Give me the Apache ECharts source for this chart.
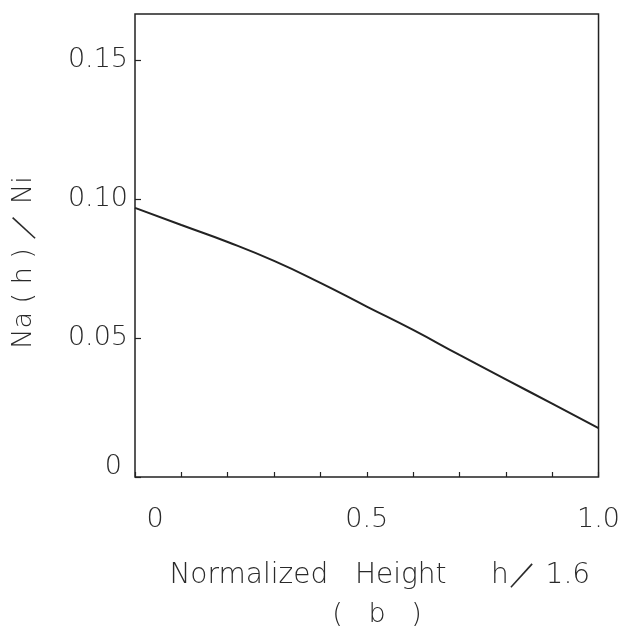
<!DOCTYPE html>
<html>
<head>
    <meta charset="utf-8">
    <title>Na(h)/Ni</title>
    <script src="https://cdn.jsdelivr.net/npm/echarts@6/dist/echarts.min.js"></script>
    <style>
        html, body {margin: 0; padding: 0; background: #fff;}
        #chart {width: 623px; height: 631px;}
    </style>
</head>
<body>
<div id="chart"></div>
<script>
    // normalized height h/1.6 and Na(h)/Ni
    var heights = [0, 0.1, 0.2, 0.3, 0.4, 0.5, 0.6, 0.7, 0.8, 0.9, 1.0];
    var ratio = [0.0968, 0.0906, 0.0845, 0.0777, 0.0698, 0.0613, 0.0529, 0.0439, 0.0351, 0.0264, 0.0176];
    var xLabels = {'0': '{z|0}', '0.5': '0.5', '1': '1.0'};
    var yLabels = {'0.05': '0.05', '0.1': '0.10', '0.15': '0.15'};

    var txt = '#2a2a2a';
    var font = 'DejaVu Sans';
    var fw = 200;
    var fs = 27;

    var myChart = echarts.init(document.getElementById('chart'));
    myChart.setOption({
        animation: false,
        grid: {
            left: 135, right: 24, top: 14, bottom: 154,
            show: true, borderColor: '#222', borderWidth: 1.5
        },
        title: {
            text: '(   b   )',
            left: 372, top: 596,
            textAlign: 'center',
            textStyle: {color: txt, fontFamily: font, fontWeight: fw, fontSize: fs}
        },
        xAxis: {
            type: 'value',
            min: 0, max: 1, interval: 0.1,
            name: 'Normalized   Height     h／ 1.6',
            nameLocation: 'middle',
            nameGap: 85,
            nameTextStyle: {color: txt, fontFamily: font, fontWeight: fw, fontSize: 28, padding: [0, 0, 0, 26]},
            axisLine: {show: false},
            splitLine: {show: false},
            axisTick: {inside: true, length: 5, lineStyle: {color: '#222', width: 1.2}},
            axisLabel: {
                margin: 29,
                color: txt, fontFamily: font, fontWeight: fw, fontSize: fs,
                formatter: function (v) {
                    var k = String(Math.round(v * 10) / 10);
                    return xLabels[k] || '';
                },
                rich: {
                    z: {color: txt, fontFamily: font, fontWeight: fw, fontSize: fs, padding: [0, 0, 0, 40]}
                }
            }
        },
        yAxis: {
            type: 'value',
            min: 0, max: 0.1665, interval: 0.05,
            name: 'Na ( h ) ／ Ni',
            nameLocation: 'middle',
            nameGap: 98,
            nameTextStyle: {color: txt, fontFamily: font, fontWeight: fw, fontSize: fs, padding: [0, 34, 0, 0]},
            axisLine: {show: false},
            splitLine: {show: false},
            axisTick: {inside: true, length: 6, lineStyle: {color: '#222', width: 1.2}},
            axisLabel: {
                margin: 7,
                showMaxLabel: false,
                color: txt, fontFamily: font, fontWeight: fw, fontSize: fs,
                formatter: function (v) {
                    if (v === 0) return '{z|0}';
                    var k = String(Math.round(v * 100) / 100);
                    return yLabels[k] || '';
                },
                rich: {
                    z: {color: txt, fontFamily: font, fontWeight: fw, fontSize: fs, padding: [0, 6, 20, 0]}
                }
            }
        },
        series: [{
            type: 'line',
            data: heights.map(function (h, i) { return [h, ratio[i]]; }),
            smooth: true,
            showSymbol: false,
            lineStyle: {color: '#222', width: 2}
        }]
    });
</script>
</body>
</html>
